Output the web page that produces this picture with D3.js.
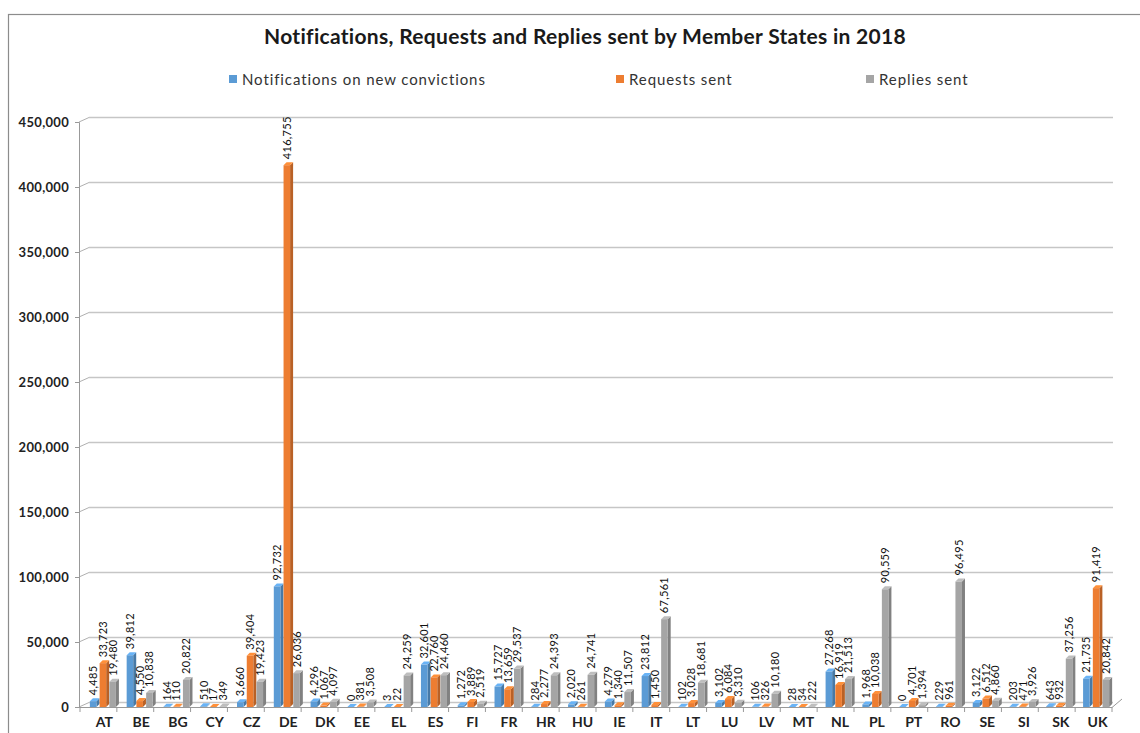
<!DOCTYPE html>
<html>
<head>
<meta charset="utf-8">
<script src="https://cdn.jsdelivr.net/npm/d3@7"></script>
<style>
  body { margin: 0; background: #fff; }
  svg { font-family: Lato, "Open Sans", sans-serif; }
</style>
</head>
<body>
<div id="chart"></div>
<script>
// data
const countries = ['AT','BE','BG','CY','CZ','DE','DK','EE','EL','ES','FI','FR','HR','HU','IE','IT','LT','LU','LV','MT','NL','PL','PT','RO','SE','SI','SK','UK'];
const notifications = [4485,39812,164,510,3660,92732,4296,0,3,32601,1272,15727,284,2020,4279,23812,102,3102,106,28,27268,1968,0,229,3122,203,643,21735];
const requests = [33723,4550,110,17,39404,416755,1067,381,22,22760,3889,13659,2277,261,1340,1450,3028,6084,326,34,16919,10038,4701,961,6512,471,932,91419];
const replies = [19480,10838,20822,349,19423,26036,4097,3508,24259,24460,2519,29537,24393,24741,11507,67561,18681,3310,10180,222,21513,90559,1394,96495,4860,3926,37256,20842];
const seriesNames = ['Notifications on new convictions','Requests sent','Replies sent'];
const seriesColors = ['#5B9BD5','#ED7D31','#A5A5A5'];
const yTicks = [0,50000,100000,150000,200000,250000,300000,350000,400000,450000];

const W = 1140, H = 733;
const svg = d3.select('#chart').append('svg').attr('width', W).attr('height', H);

// outer frame
svg.append('rect').attr('x', 8.5).attr('y', 14.5).attr('width', W).attr('height', H + 20)
   .attr('fill', 'none').attr('stroke', '#8c8c8c').attr('stroke-width', 1.2);

svg.append('text').attr('x', 585).attr('y', 44).attr('text-anchor', 'middle')
   .style('font-size', '21px').style('font-weight', 'bold').style('fill', '#1a1a1a')
   .style('letter-spacing', '0.3px')
   .text('Notifications, Requests and Replies sent by Member States in 2018');

// legend
const legendX = [229, 616, 866];
const legend = svg.append('g').selectAll('g').data(seriesNames).join('g')
   .attr('transform', (d, i) => `translate(${legendX[i]},80)`);
legend.append('rect').attr('x', 0).attr('y', -5).attr('width', 8).attr('height', 8)
   .attr('fill', (d, i) => seriesColors[i]);
legend.append('text').attr('x', 13).attr('y', 5).style('font-size', '15px').style('letter-spacing', '0.9px')
   .style('fill', '#333').text(d => d);

// scales
const x = d3.scaleBand().domain(countries).range([86, 1116]).paddingInner(0.2).paddingOuter(0.1);
const xs = d3.scaleBand().domain([0, 1, 2]).range([0, x.bandwidth()]).padding(0.02);
const y = d3.scaleLinear().domain([0, 450000]).range([703, 118]);
const depth = 3;

// gridlines (back wall, slight 3D offset)
const grid = svg.append('g');
grid.selectAll('line.g').data(yTicks).join('line').attr('class', 'g')
   .attr('x1', 89).attr('x2', 1113).attr('y1', d => y(d) - 0.5).attr('y2', d => y(d) - 0.5)
   .attr('stroke', '#c6c6c6').attr('stroke-width', 1.5);
grid.selectAll('line.s').data(yTicks).join('line').attr('class', 's')
   .attr('x1', 79).attr('x2', 89).attr('y1', d => y(d) + 4).attr('y2', d => y(d) - 0.5)
   .attr('stroke', '#b0b0b0');

// y axis
const yAxis = svg.append('g').attr('transform', 'translate(79,4)')
   .call(d3.axisLeft(y).tickValues(yTicks).tickFormat(d3.format(',')).tickSize(4).tickPadding(6));
yAxis.select('.domain').attr('stroke', '#999');
yAxis.selectAll('.tick line').attr('stroke', '#999');
yAxis.selectAll('text').style('font-size', '13px').style('font-weight', 'bold').style('fill', '#222')
   .style('font-family', 'Lato, sans-serif').style('letter-spacing', '0.3px');

// x axis
const xAxis = svg.append('g').attr('transform', 'translate(0,707)')
   .call(d3.axisBottom(x).tickSize(0).tickPadding(10));
xAxis.select('.domain').remove();
svg.append('line').attr('x1', 79).attr('x2', 1112).attr('y1', 707.5).attr('y2', 707.5).attr('stroke', '#999');
svg.append('line').attr('x1', 1112).attr('x2', 1122).attr('y1', 707.5).attr('y2', 699).attr('stroke', '#999');
const tickStep = 1032 / countries.length;
svg.append('g').selectAll('line').data(countries.concat(['end'])).join('line')
   .attr('x1', (d, i) => 80 + i * tickStep).attr('x2', (d, i) => 80 + i * tickStep)
   .attr('y1', 707).attr('y2', 712).attr('stroke', '#999');
xAxis.selectAll('text').style('font-size', '14px').style('font-weight', 'bold').style('fill', '#222')
   .style('font-family', 'Lato, sans-serif');

// bars
const rows = [];
countries.forEach((c, i) => {
  [notifications[i], requests[i], replies[i]].forEach((v, s) => rows.push({ c, s, v }));
});
const bars = svg.append('g').selectAll('g').data(rows).join('g')
   .attr('transform', d => `translate(${x(d.c) + xs(d.s)},0)`);
const bw = xs.bandwidth() - depth;
bars.append('path')
   .attr('d', d => `M${bw},${y(d.v) + 4} l${depth},${-depth} L${bw + depth},${y(0) + 4 - depth} l${-depth},${depth}Z`)
   .attr('fill', d => d3.color(seriesColors[d.s]).darker(0.7));
bars.append('path')
   .attr('d', d => `M0,${y(d.v) + 4} l${depth},${-depth} h${bw} l${-depth},${depth}Z`)
   .attr('fill', d => d3.color(seriesColors[d.s]).brighter(0.4));
bars.append('rect').attr('x', 0).attr('y', d => y(d.v) + 4).attr('width', bw)
   .attr('height', d => y(0) - y(d.v))
   .attr('fill', d => seriesColors[d.s]);

// value labels
bars.append('text')
   .attr('transform', d => `translate(${bw / 2 + 4},${y(d.v) - 2}) rotate(-90)`)
   .style('font-size', '11px').style('fill', '#111').style('letter-spacing', '0.3px')
   .text(d => d3.format(',')(d.v));
</script>
</body>
</html>
